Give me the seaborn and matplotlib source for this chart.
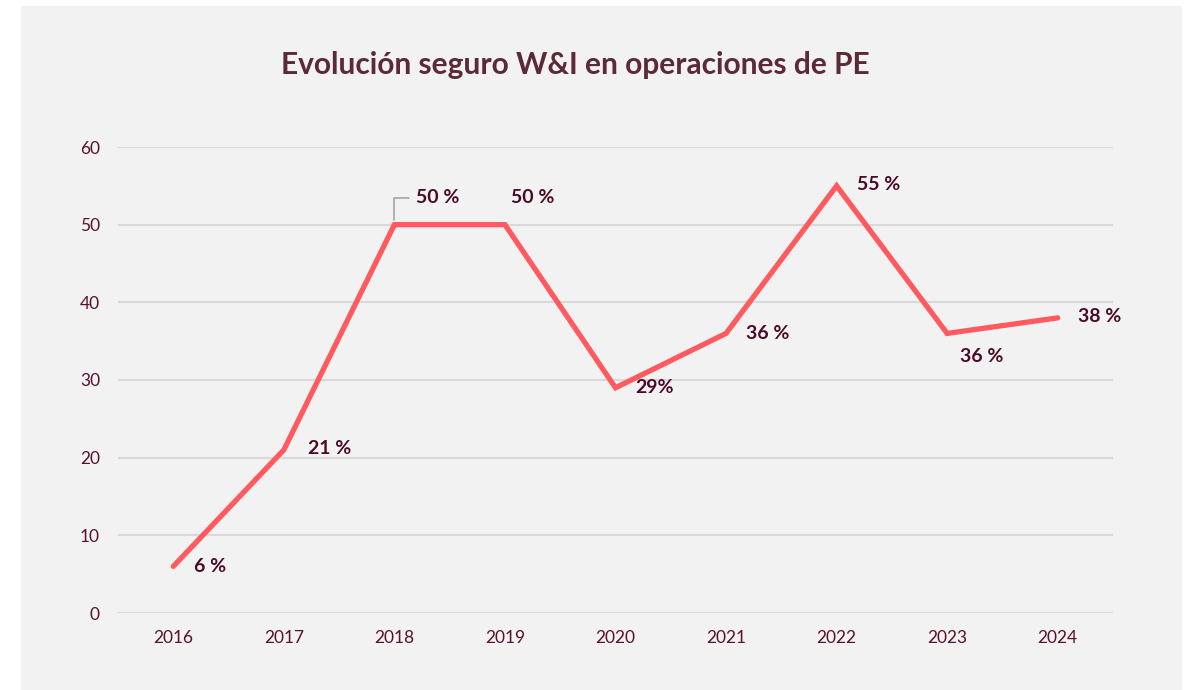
import matplotlib
matplotlib.use("Agg")
import matplotlib.pyplot as plt
import seaborn as sns
import pandas as pd
from matplotlib.patches import Rectangle

# data
years = [2016, 2017, 2018, 2019, 2020, 2021, 2022, 2023, 2024]
share = [6, 21, 50, 50, 29, 36, 55, 36, 38]
point_labels = ["6 %", "21 %", "50 %", "50 %", "29%", "36 %", "55 %", "36 %", "38 %"]

# label placement (pixel offsets from each point)
label_offsets = [(37, 0), (46, 1), (42, 27), (28, 27), (39, 0),
                 (42, 0), (42, 1), (35, -23), (42, 1)]

sns.set_theme(style="white")
plt.rcParams["font.family"] = ["Lato", "DejaVu Sans"]

df = pd.DataFrame({"year": years, "share": share})

fig = plt.figure(figsize=(11.92, 6.90), dpi=100, facecolor="white")
fig.patches.append(Rectangle((21 / 1192, 0), (1182 - 21) / 1192, 1 - 6 / 690,
                             transform=fig.transFigure, facecolor="#f2f2f2",
                             edgecolor="none", zorder=-10))

ax = fig.add_axes([118 / 1192, 1 - 613 / 690, (1113 - 118) / 1192, (613 - 147) / 690])
ax.set_facecolor("none")

sns.lineplot(data=df, x="year", y="share", ax=ax, color="#ff5a5f",
             linewidth=3.8, solid_capstyle="round", solid_joinstyle="miter")

ax.set_xlim(2015.5, 2024.5)
ax.set_ylim(0, 60)
ax.set_yticks(range(0, 61, 10))
ax.set_xticks(years)
ax.grid(axis="y", color="#d9d9d9", linewidth=1.5)
ax.set_axisbelow(True)
for s in ax.spines.values():
    s.set_visible(False)
ax.tick_params(axis="both", length=0, labelsize=12.5, labelcolor="#5a1030")
ax.tick_params(axis="x", pad=12)
ax.tick_params(axis="y", pad=13)
ax.set_xlabel("")
ax.set_ylabel("")

for i, (yr, val, txt) in enumerate(zip(years, share, point_labels)):
    dx, dy = label_offsets[i]
    if i == 2:
        ax.annotate(txt, xy=(yr, val), xytext=(dx - 20, dy), textcoords="offset pixels",
                    ha="left", va="center", fontsize=14, fontweight="bold",
                    color="#4a0a28",
                    arrowprops=dict(arrowstyle="-", color="#a6a6a6", lw=1.2,
                                    connectionstyle="angle,angleA=0,angleB=90,rad=0",
                                    shrinkA=3, shrinkB=3))
    else:
        ax.annotate(txt, xy=(yr, val), xytext=(dx, dy), textcoords="offset pixels",
                    ha="center", va="center", fontsize=14, fontweight="bold",
                    color="#4a0a28")

fig.text(575 / 1192, 1 - 65 / 690, "Evolución seguro W&I en operaciones de PE",
         ha="center", va="center", fontsize=21.5, fontweight="bold", color="#5c2a36")

fig.savefig("out.png", dpi=100, facecolor="white")
